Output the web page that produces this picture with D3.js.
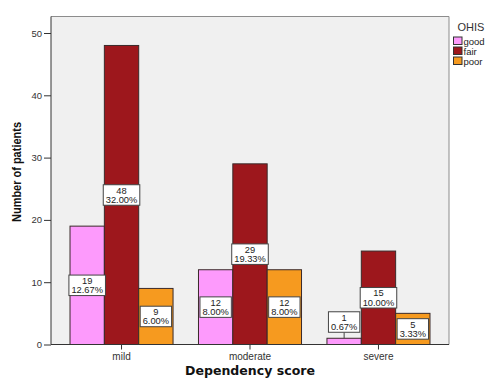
<!DOCTYPE html>
<html>
<head>
<meta charset="utf-8">
<script src="https://cdn.jsdelivr.net/npm/d3@7"></script>
<style>
  html, body { margin: 0; padding: 0; background: #fff; }
  svg { display: block; }
  text { font-family: "Liberation Sans", Arial, sans-serif; }
</style>
</head>
<body>
<svg id="chart" width="487" height="379"></svg>
<script>
// Dependency score categories and OHIS groups
const categories = ["mild", "moderate", "severe"];
const series = ["good", "fair", "poor"];
const good = [19, 12, 1];
const fair = [48, 29, 15];
const poor = [9, 12, 5];
const goodPct = ["12.67%", "8.00%", "0.67%"];
const fairPct = ["32.00%", "19.33%", "10.00%"];
const poorPct = ["6.00%", "8.00%", "3.33%"];
const yTicks = [0, 10, 20, 30, 40, 50];
const colors = ["#fd9afc", "#9d171c", "#f69a1f"];

const values = [good, fair, poor];
const pcts = [goodPct, fairPct, poorPct];

const rows = [];
series.forEach((s, si) => {
  categories.forEach((c, ci) => {
    rows.push({ cat: c, ser: s, si, value: values[si][ci], pct: pcts[si][ci] });
  });
});

const svg = d3.select("#chart");
const plot = { left: 51, right: 449, top: 16.5, bottom: 344.5 };

const y = d3.scaleLinear().domain([0, 52.65]).range([plot.bottom, plot.top]);
const x0 = d3.scaleBand().domain(categories).range([plot.left, plot.right])
  .paddingInner(0.198).paddingOuter(0.148);
const x1 = d3.scaleBand().domain(series).range([0, x0.bandwidth()]).padding(0);
const color = d3.scaleOrdinal().domain(series).range(colors);

// plot background
svg.append("rect")
  .attr("x", plot.left).attr("y", plot.top)
  .attr("width", plot.right - plot.left).attr("height", plot.bottom - plot.top)
  .attr("fill", "#f0f0f0");

// top and right frame lines
svg.append("path")
  .attr("d", `M${plot.left},${plot.top}H${plot.right}V${plot.bottom}`)
  .attr("fill", "none").attr("stroke", "#8c8c8c").attr("stroke-width", 1);

// bars
svg.append("g").selectAll("rect").data(rows).join("rect")
  .attr("x", d => x0(d.cat) + x1(d.ser))
  .attr("y", d => y(d.value))
  .attr("width", x1.bandwidth())
  .attr("height", d => y(0) - y(d.value))
  .attr("fill", d => color(d.ser))
  .attr("stroke", "#3a2a2a").attr("stroke-width", 1);

// y axis
const yAxis = d3.axisLeft(y).tickValues(yTicks).tickSize(7).tickPadding(2);
const gy = svg.append("g").attr("transform", `translate(${plot.left},0)`).call(yAxis);
gy.select(".domain").attr("stroke", "#333").attr("d", `M0,${plot.top}V${plot.bottom}`);
gy.selectAll(".tick line").attr("stroke", "#333");
gy.selectAll(".tick text").attr("fill", "#333").style("font-size", "9.5px")
  .style("font-family", "'Liberation Sans', Arial, sans-serif");

// x axis
const xAxis = d3.axisBottom(x0).tickSize(5).tickPadding(3).tickSizeOuter(0);
const gx = svg.append("g").attr("transform", `translate(0,${plot.bottom})`).call(xAxis);
gx.select(".domain").attr("stroke", "#333").attr("d", `M${plot.left},0H${plot.right}`);
gx.selectAll(".tick line").attr("stroke", "#333");
gx.selectAll(".tick text").attr("fill", "#333").style("font-size", "10px")
  .style("font-family", "'Liberation Sans', Arial, sans-serif");

// value labels: count and percentage in a boxed two-line label
const lab = svg.append("g");
const boxH = 20.5, gap = 6;
rows.forEach(d => {
  const cx = x0(d.cat) + x1(d.ser) + x1.bandwidth() / 2;
  const barH = y(0) - y(d.value);
  let cy = y(d.value / 2);
  let lifted = false;
  if (barH < boxH) { cy = y(d.value) - gap - boxH / 2; lifted = true; }
  const g = lab.append("g");
  const t = g.append("text").attr("text-anchor", "middle")
    .style("font-size", "9.3px").attr("fill", "#222");
  t.append("tspan").attr("x", cx).attr("y", cy - 1.3).text(d.value);
  t.append("tspan").attr("x", cx).attr("y", cy + 8).text(d.pct);
  const w = t.node().getBBox().width + 5;
  g.insert("rect", "text")
    .attr("x", cx - w / 2).attr("y", cy - boxH / 2)
    .attr("width", w).attr("height", boxH)
    .attr("fill", "#fff").attr("stroke", "#444").attr("stroke-width", 1);
  if (lifted) {
    g.insert("line", "rect")
      .attr("x1", cx).attr("x2", cx)
      .attr("y1", cy + boxH / 2).attr("y2", y(d.value))
      .attr("stroke", "#444").attr("stroke-width", 1);
  }
});

// axis titles
svg.append("text")
  .attr("transform", `translate(20.5,172) rotate(-90)`)
  .attr("text-anchor", "middle")
  .attr("textLength", 100).attr("lengthAdjust", "spacingAndGlyphs")
  .style("font-size", "12.5px").style("font-weight", "bold").attr("fill", "#111")
  .text("Number of patients");

svg.append("text")
  .attr("x", 250).attr("y", 375)
  .attr("text-anchor", "middle")
  .attr("textLength", 130).attr("lengthAdjust", "spacingAndGlyphs")
  .style("font-family", "'DejaVu Sans', Verdana, sans-serif")
  .style("font-size", "11.5px").style("font-weight", "bold").attr("fill", "#111")
  .text("Dependency score");

// legend
const leg = svg.append("g");
leg.append("text").attr("x", 457.5).attr("y", 30.5)
  .style("font-size", "11px").attr("fill", "#333").text("OHIS");
series.forEach((s, i) => {
  const yy = 37 + i * 10;
  leg.append("rect").attr("x", 453.5).attr("y", yy).attr("width", 8.5).attr("height", 7.5)
    .attr("fill", color(s)).attr("stroke", "#333").attr("stroke-width", 1);
  leg.append("text").attr("x", 463.5).attr("y", yy + 7.5)
    .style("font-size", "9.5px").attr("fill", "#222").text(s);
});
</script>
</body>
</html>
